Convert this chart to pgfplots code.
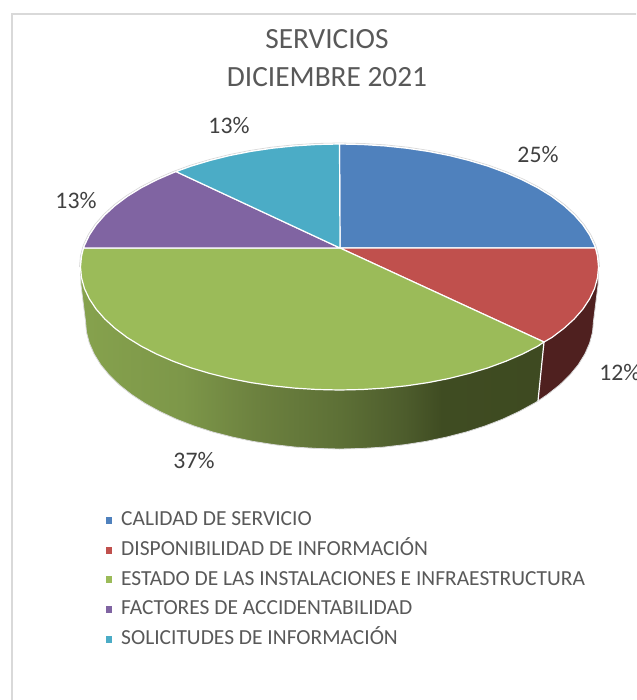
\documentclass[border=0pt]{standalone}
\usepackage{pgfplots}
\pgfplotsset{compat=1.18}
\usepackage{fontspec}
\setmainfont{Carlito}
\definecolor{cBlue}{HTML}{4F81BD}
\definecolor{cRed}{HTML}{C0504D}
\definecolor{cGreen}{HTML}{9BBB59}
\definecolor{cPurple}{HTML}{8064A2}
\definecolor{cTeal}{HTML}{4BACC6}
\definecolor{cWallRed}{HTML}{4F201F}
\definecolor{cTitle}{HTML}{595959}
\definecolor{cLabel}{HTML}{404040}
\definecolor{cFrame}{HTML}{D9D9D9}
\pgfdeclarehorizontalshading{wallgreen}{100bp}{
  rgb(0bp)=(0.525,0.635,0.302);
  rgb(25bp)=(0.525,0.635,0.302);
  rgb(36bp)=(0.490,0.592,0.286);
  rgb(44bp)=(0.424,0.506,0.247);
  rgb(53bp)=(0.365,0.439,0.212);
  rgb(60bp)=(0.302,0.361,0.173);
  rgb(64bp)=(0.247,0.298,0.133);
  rgb(75bp)=(0.243,0.290,0.129);
  rgb(100bp)=(0.243,0.290,0.129)}
\begin{document}
\begin{tikzpicture}[x=1pt,y=1pt]
\useasboundingbox (0,0) rectangle (477,525);
\begin{axis}[
  at={(0,0)},anchor=south west,
  scale only axis,width=477pt,height=525pt,
  xmin=0,xmax=636,ymin=0,ymax=700,y dir=reverse,
  hide axis,
  title={SERVICIOS\\DICIEMBRE 2021},
  title style={at={(axis cs:327,66)},anchor=center,align=center,font=\fontsize{22}{28.5}\selectfont,text=cTitle},
  legend cell align=left,
  legend style={at={(axis cs:102,511)},anchor=north west,draw=none,fill=none,inner sep=0pt,outer sep=0pt,
    font=\fontsize{16.1}{18}\selectfont,text=cTitle,row sep=8.3pt,
    nodes={text height=11pt,text depth=3pt,inner sep=0pt,outer sep=0pt}},
  legend image code/.code={\fill[#1,draw=none] (2.2pt,-2.6pt) rectangle (7.4pt,2.6pt);\path (0pt,0pt) (13.5pt,0pt);},
]
% frame
\addplot[forget plot,draw=cFrame,line width=1.2pt] coordinates {(12,720)(12,14)(660,14)};
% side walls
\addplot[forget plot,shade,shading=wallgreen,draw=none] coordinates {
 (80.5,267)(81,285)(85.5,321)(86.5,332.2)(89.4,343.2)(94.2,354.1)(100.8,364.8)(109.3,375.1)(119.5,385)(131.4,394.4)(144.9,403.3)(159.9,411.5)(176.2,419.1)(193.8,425.9)(212.5,431.9)(232.2,437)(252.6,441.3)(273.8,444.6)(295.4,447.1)(317.4,448.5)(339.5,449)(361.6,448.5)(383.6,447.1)(405.2,444.6)(426.4,441.3)(446.8,437)(466.5,431.9)(485.2,425.9)(502.8,419.1)(519.1,411.5)(534.1,403.3)(538,401)(544,342)(340,248)} --cycle;
\addplot[forget plot,fill=cWallRed,draw=none] coordinates {
 (544,342)(538,401)(547.6,394.4)(559.5,385)(569.7,375.1)(578.2,364.8)(584.8,354.1)(589.6,343.2)(592.5,332.2)(593.5,321)(598,285)(598.5,267)(340,248)} --cycle;
% outer outline of the pie
\addplot[forget plot,draw=cFrame,line width=0.6pt] coordinates {
 (80.5,267)(81,285)(85.5,321)(86.5,332.2)(89.4,343.2)(94.2,354.1)(100.8,364.8)(109.3,375.1)(119.5,385)(131.4,394.4)(144.9,403.3)(159.9,411.5)(176.2,419.1)(193.8,425.9)(212.5,431.9)(232.2,437)(252.6,441.3)(273.8,444.6)(295.4,447.1)(317.4,448.5)(339.5,449)(361.6,448.5)(383.6,447.1)(405.2,444.6)(426.4,441.3)(446.8,437)(466.5,431.9)(485.2,425.9)(502.8,419.1)(519.1,411.5)(534.1,403.3)(538,401)(547.6,394.4)(559.5,385)(569.7,375.1)(578.2,364.8)(584.8,354.1)(589.6,343.2)(592.5,332.2)(593.5,321)(598,285)(598.5,267)};
\addplot[forget plot,draw=cFrame,line width=0.6pt] coordinates {
 (79.5,267)(80.5,255.6)(83.4,245)(88.3,234.6)(95.1,224.3)(103.8,214.3)(114.2,204.8)(126.3,195.8)(140.1,187.2)(155.4,179.3)(172,172)(189.9,165.4)(209,159.7)(229,154.7)(249.9,150.5)(271.5,147.2)(293.5,144.9)(315.9,143.5)(339.5,143)(363.1,143.5)(385.5,144.9)(407.5,147.2)(429.1,150.5)(450,154.7)(470,159.7)(489.1,165.4)(507,172)(523.6,179.3)(538.9,187.2)(552.7,195.8)(564.8,204.8)(575.2,214.3)(583.9,224.3)(590.7,234.6)(595.6,245)(598.5,255.6)(599.5,267)};
\addplot[forget plot,draw=white,line width=0.9pt] coordinates {(544,342)(538,401)};
% top face: CALIDAD 25, DISPONIBILIDAD 12, ESTADO 37, FACTORES 13, SOLICITUDES 13
\addplot[fill=cBlue,draw=white,line width=0.9pt,line join=round] coordinates {
 (340,248)(339.5,144)(362.1,144.5)(384.5,145.9)(406.5,148.2)(428.1,151.4)(449,155.5)(469,160.5)(488.1,166.2)(506,172.8)(522.6,180)(537.9,187.9)(551.7,196.4)(563.8,205.5)(574.2,215)(582.9,224.9)(589.7,235.2)(594.6,245.6)(595.5,248)} --cycle;
\addlegendentry{CALIDAD DE SERVICIO}
\addplot[fill=cRed,draw=white,line width=0.9pt,line join=round] coordinates {
 (340,248)(595.5,248)(597.5,256.3)(598.5,267)(597.5,277.7)(594.6,288.4)(589.7,298.8)(582.9,309.1)(574.2,319)(563.8,328.5)(551.7,337.6)(544,342)} --cycle;
\addlegendentry{DISPONIBILIDAD DE INFORMACIÓN}
\addplot[fill=cGreen,draw=white,line width=0.9pt,line join=round] coordinates {
 (340,248)(544,342)(537.9,346.1)(522.6,354)(506,361.2)(488.1,367.8)(469,373.5)(449,378.5)(428.1,382.6)(406.5,385.8)(384.5,388.1)(362.1,389.5)(339.5,390)(316.9,389.5)(294.5,388.1)(272.5,385.8)(250.9,382.6)(230,378.5)(210,373.5)(190.9,367.8)(173,361.2)(156.4,354)(141.1,346.1)(127.3,337.6)(115.2,328.5)(104.8,319)(96.1,309.1)(89.3,298.8)(84.4,288.4)(81.5,277.7)(80.5,267)(81.5,256.3)(83.5,248)} --cycle;
\addlegendentry{ESTADO DE LAS INSTALACIONES E INFRAESTRUCTURA}
\addplot[fill=cPurple,draw=white,line width=0.9pt,line join=round] coordinates {
 (340,248)(83.5,248)(84.4,245.6)(89.3,235.2)(96.1,224.9)(104.8,215)(115.2,205.5)(127.3,196.4)(141.1,187.9)(156.4,180)(173,172.8)(176,171.6)} --cycle;
\addlegendentry{FACTORES DE ACCIDENTABILIDAD}
\addplot[fill=cTeal,draw=white,line width=0.9pt,line join=round] coordinates {
 (340,248)(176,171.6)(190.9,166.2)(210,160.5)(230,155.5)(250.9,151.4)(272.5,148.2)(294.5,145.9)(316.9,144.5)(339.5,144)} --cycle;
\addlegendentry{SOLICITUDES DE INFORMACIÓN}
% data labels
\node[font=\fontsize{17.8}{20}\selectfont,text=cLabel] at (axis cs:538,155) {25\%};
\node[font=\fontsize{17.8}{20}\selectfont,text=cLabel,anchor=west,inner sep=0pt] at (axis cs:599,372) {12\%};
\node[font=\fontsize{17.8}{20}\selectfont,text=cLabel] at (axis cs:194,460) {37\%};
\node[font=\fontsize{17.8}{20}\selectfont,text=cLabel] at (axis cs:76,201) {13\%};
\node[font=\fontsize{17.8}{20}\selectfont,text=cLabel] at (axis cs:229,126) {13\%};
\end{axis}
\end{tikzpicture}
\end{document}
